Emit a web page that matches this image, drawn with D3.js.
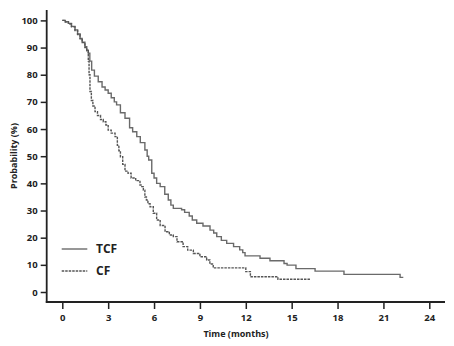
<!DOCTYPE html>
<html><head><meta charset="utf-8">
<script src="https://cdn.jsdelivr.net/npm/d3@7"></script>
<style>body{margin:0;background:#fff}svg{display:block}text{font-family:"Open Sans",sans-serif;font-weight:700;fill:#222}</style>
</head><body><svg id="c" width="454" height="346"></svg>
<script>
const xTicks=[0,3,6,9,12,15,18,21,24];
const yTicks=[0,10,20,30,40,50,60,70,80,90,100];
const tcfTime=[0,0.2,0.4,0.6,0.83,1.0,1.16,1.3,1.48,1.6,1.7,1.8,1.92,2.1,2.35,2.6,2.8,3.0,3.2,3.4,3.55,3.8,4.1,4.4,4.6,4.87,5.1,5.4,5.55,5.65,5.85,6.0,6.17,6.4,6.7,6.93,7.1,7.26,7.8,8.0,8.3,8.5,8.79,9.2,9.66,9.9,10.1,10.4,10.75,11.2,11.6,11.8,11.95,12.93,13.58,14.5,14.7,15.28,16.53,18.42,22.09,22.3];
const tcfSurv=[100,99.5,98.9,97.8,96.5,95,93.4,92,90.3,89,87.9,85,81.7,79.5,77.4,75.5,74.4,73.2,71.5,70,68.9,66,64,60.5,59,57.2,55,52.3,50,48.6,43.7,42,40,38.8,36,33.9,32,30.8,30.3,29.3,28,26.5,25.3,24.3,22.8,21.7,20.4,19,17.9,16.7,15.5,14.5,13.3,12.4,11.5,10.5,9.9,8.6,7.7,6.5,5.4,5.4];
const cfTime=[0,0.2,0.4,0.6,0.83,1.0,1.16,1.3,1.48,1.6,1.7,1.75,1.81,1.9,2.0,2.14,2.3,2.5,2.68,2.85,3.0,3.2,3.45,3.6,3.7,3.8,3.95,4.1,4.3,4.5,4.8,5.08,5.2,5.3,5.4,5.5,5.6,5.74,5.95,6.17,6.4,6.72,7.0,7.26,7.5,7.9,8.2,8.57,9.0,9.44,9.65,9.87,12.0,12.3,14.1,16.2];
const cfSurv=[100,99.4,98.7,97.6,96.3,94.8,93.2,91.8,90,88.8,85,80,73.8,70.5,68.5,66.4,65,63.5,62.7,61.5,59.6,58.5,57.2,54,52,49.8,47,44.5,43.7,42,41,39.4,38.8,37.5,35,33.9,32.5,31.4,29,26.5,24.5,22.2,21,20.4,18.5,16.7,15.4,14.2,13,11.8,10.3,8.9,7.5,5.6,4.7,4.7];
const seriesNames=["TCF","CF"];

const svg=d3.select("#c");
const x=d3.scaleLinear().domain([0,24]).range([62.3,429.3]);
const y=d3.scaleLinear().domain([0,100]).range([292,20.4]);

const line=d3.line().x(d=>x(d[0])).y(d=>y(d[1])).curve(d3.curveStepAfter);
const tcf=tcfTime.map((t,i)=>[t,tcfSurv[i]]);
const cf=cfTime.map((t,i)=>[t,cfSurv[i]]);

svg.append("path").attr("d",line(tcf)).attr("fill","none").attr("stroke","#6a6a6a").attr("stroke-width",1.4);
svg.append("path").attr("d",line(cf)).attr("fill","none").attr("stroke","#555").attr("stroke-width",1.4).attr("stroke-dasharray","2.5,1");

// axes
const yAx=svg.append("g").attr("transform","translate(46.7,0)")
  .call(d3.axisLeft(y).tickValues(yTicks).tickSize(6).tickPadding(3));
yAx.select(".domain").remove();
const xAx=svg.append("g").attr("transform","translate(0,302)")
  .call(d3.axisBottom(x).tickValues(xTicks).tickSize(7).tickPadding(5));
xAx.select(".domain").remove();
svg.selectAll(".tick line").attr("stroke","#222").attr("stroke-width",1.5);
svg.selectAll(".tick text").style("font-size","9.5px").attr("fill","#222");
svg.append("line").attr("x1",46.7).attr("x2",46.7).attr("y1",10).attr("y2",302.8).attr("stroke","#222").attr("stroke-width",1.8);
svg.append("line").attr("x1",45.8).attr("x2",445).attr("y1",302).attr("y2",302).attr("stroke","#222").attr("stroke-width",1.8);

svg.append("text").attr("x",236).attr("y",337).attr("text-anchor","middle").style("font-size","9px").text("Time (months)");
svg.append("text").attr("transform","translate(17,156) rotate(-90)").attr("text-anchor","middle").style("font-size","9px").text("Probability (%)");

// legend
const leg=[{y:249,dash:null,col:"#6a6a6a"},{y:271,dash:"2.5,1",col:"#555"}];
leg.forEach((l,i)=>{
  svg.append("line").attr("x1",61.7).attr("x2",87.3).attr("y1",l.y).attr("y2",l.y)
    .attr("stroke",l.col).attr("stroke-width",1.4).attr("stroke-dasharray",l.dash);
  svg.append("text").attr("x",96).attr("y",l.y+4.3).style("font-size","12px").text(seriesNames[i]);
});
</script></body></html>
